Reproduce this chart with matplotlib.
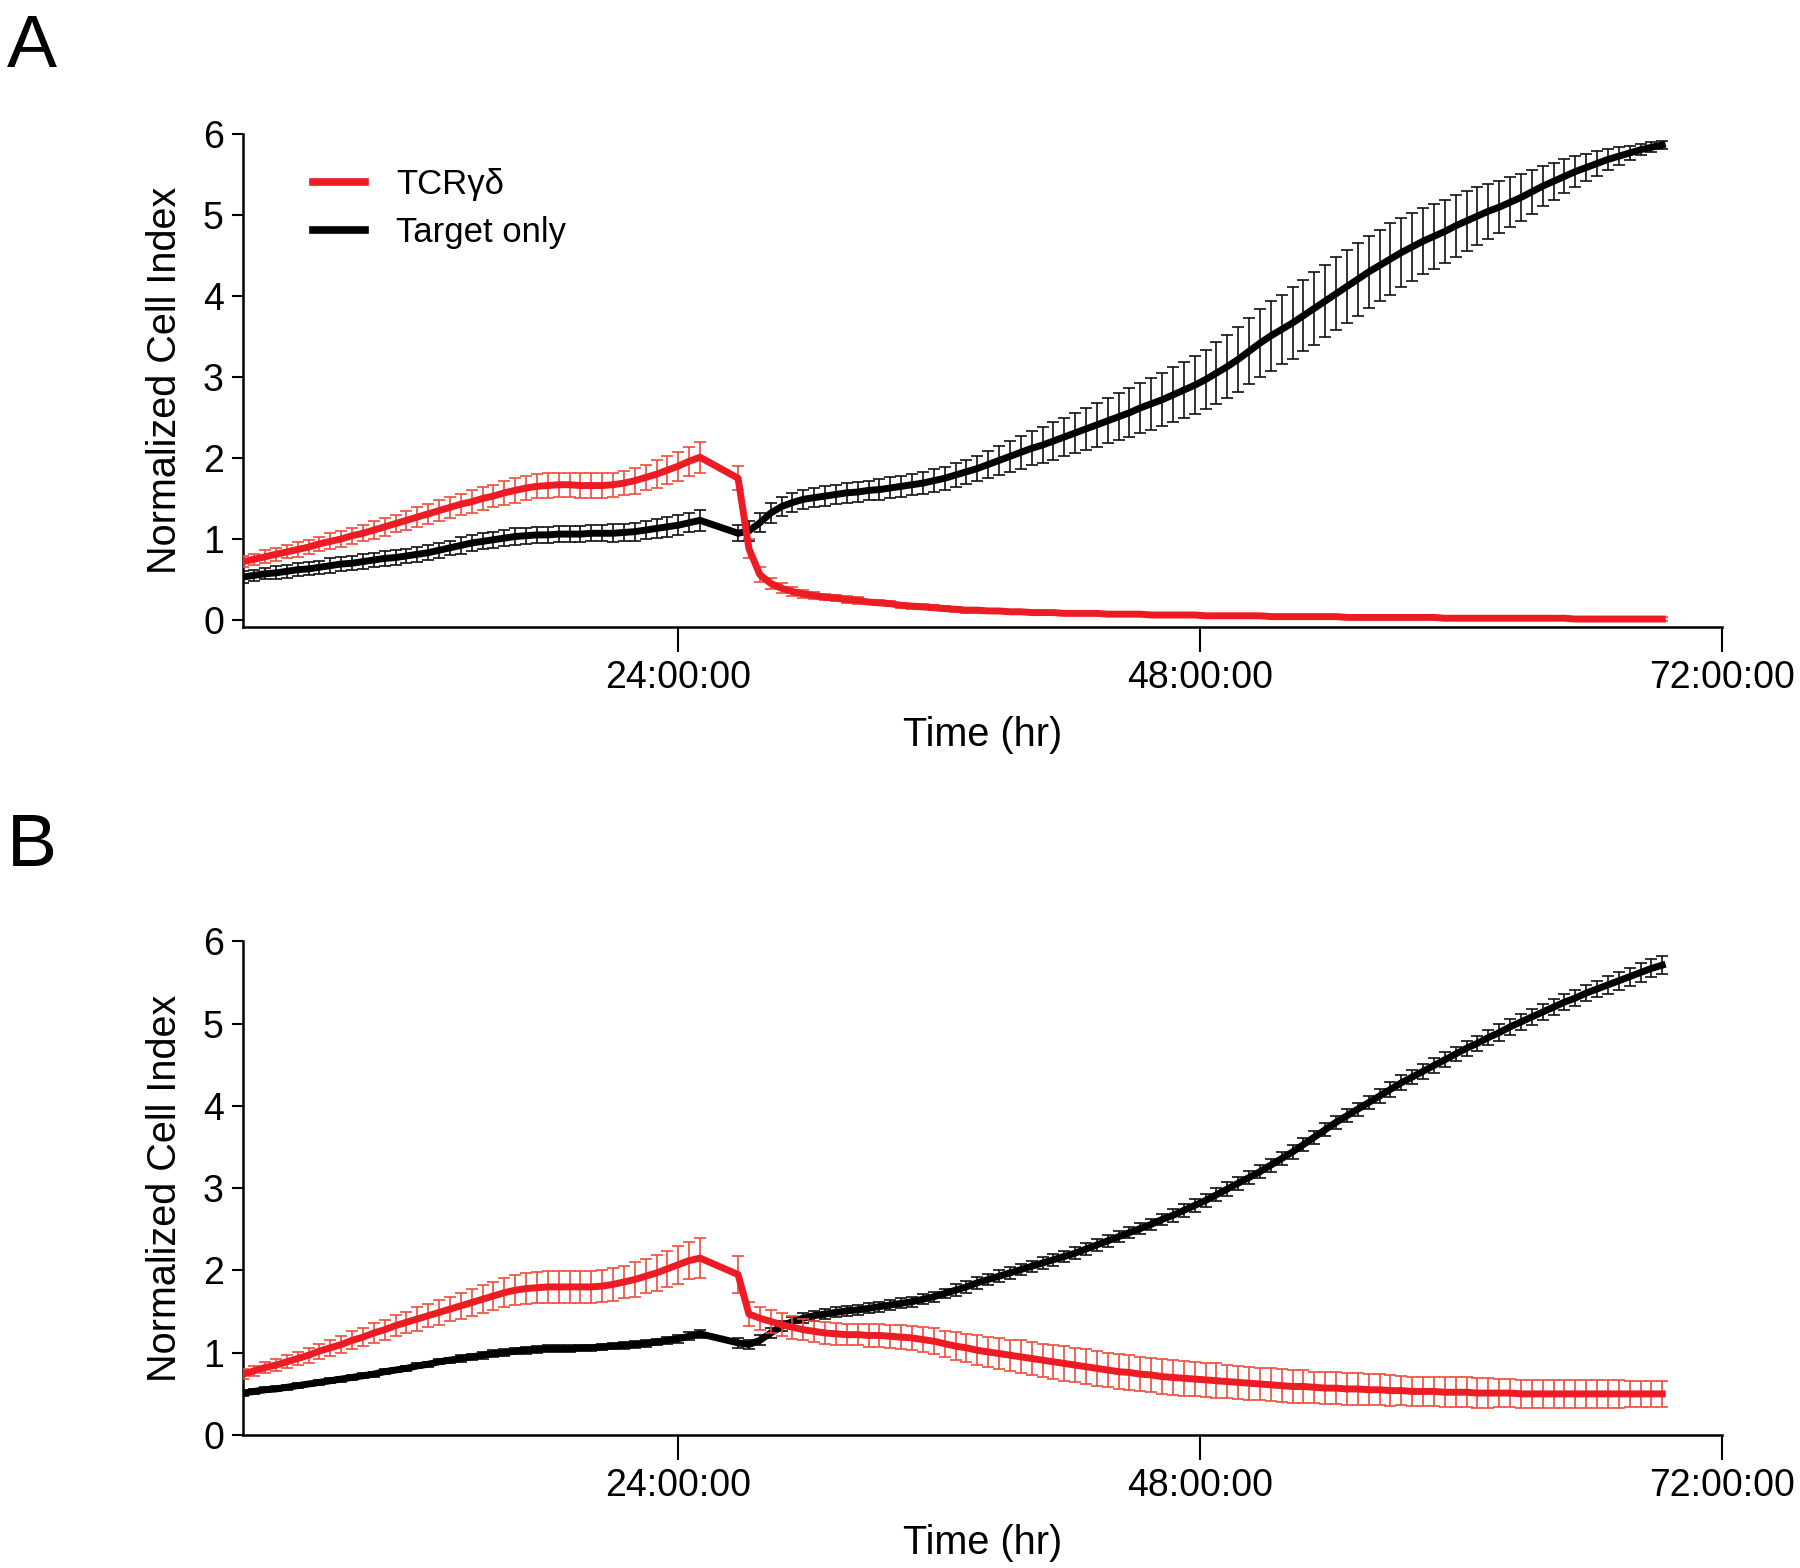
import numpy as np
import matplotlib
matplotlib.use('Agg')
import matplotlib.pyplot as plt
from matplotlib.lines import Line2D

plt.rcParams['font.family'] = ['Liberation Sans', 'DejaVu Sans']

# sampling times (h): before the effector addition gap, and after it
hours_pre = np.arange(4.0, 25.01, 0.5)
hours_post = np.arange(26.75, 69.26, 0.5)
hours = np.concatenate([hours_pre, hours_post])

# ---- panel A ----
red_a = [
    0.72, 0.75, 0.78, 0.81, 0.84, 0.87, 0.90, 0.94, 0.97, 1.00,
    1.04, 1.07, 1.11, 1.15, 1.19, 1.23, 1.27, 1.31, 1.35, 1.39,
    1.43, 1.46, 1.50, 1.53, 1.57, 1.60, 1.63, 1.65, 1.66, 1.67,
    1.67, 1.66, 1.66, 1.66, 1.67, 1.69, 1.72, 1.76, 1.80, 1.85,
    1.90, 1.96, 2.01,
    1.75, 0.88, 0.56, 0.45, 0.39, 0.35, 0.32, 0.30, 0.28, 0.27,
    0.25, 0.24, 0.22, 0.21, 0.20, 0.18, 0.17, 0.16, 0.15, 0.14,
    0.13, 0.12, 0.12, 0.11, 0.11, 0.10, 0.10, 0.09, 0.09, 0.09,
    0.08, 0.08, 0.08, 0.08, 0.07, 0.07, 0.07, 0.07, 0.06, 0.06,
    0.06, 0.06, 0.06, 0.05, 0.05, 0.05, 0.05, 0.05, 0.05, 0.04,
    0.04, 0.04, 0.04, 0.04, 0.04, 0.04, 0.03, 0.03, 0.03, 0.03,
    0.03, 0.03, 0.03, 0.03, 0.03, 0.02, 0.02, 0.02, 0.02, 0.02,
    0.02, 0.02, 0.02, 0.02, 0.02, 0.02, 0.02, 0.01, 0.01, 0.01,
    0.01, 0.01, 0.01, 0.01, 0.01, 0.01,
]
red_a_err = [
    0.07, 0.07, 0.08, 0.08, 0.08, 0.09, 0.09, 0.09, 0.10, 0.10,
    0.10, 0.10, 0.11, 0.11, 0.11, 0.12, 0.12, 0.12, 0.13, 0.13,
    0.13, 0.14, 0.14, 0.14, 0.15, 0.15, 0.15, 0.15, 0.15, 0.15,
    0.15, 0.15, 0.15, 0.15, 0.15, 0.15, 0.16, 0.16, 0.17, 0.17,
    0.18, 0.18, 0.19,
    0.15, 0.12, 0.09, 0.07, 0.06, 0.05, 0.05, 0.04, 0.04, 0.04,
    0.04, 0.04, 0.03, 0.03, 0.03, 0.03, 0.03, 0.03, 0.03, 0.03,
    0.03, 0.03, 0.03, 0.03, 0.02, 0.02, 0.02, 0.02, 0.02, 0.02,
    0.02, 0.02, 0.02, 0.02, 0.02, 0.02, 0.02, 0.02, 0.02, 0.02,
    0.02, 0.02, 0.02, 0.02, 0.02, 0.02, 0.02, 0.02, 0.02, 0.02,
    0.02, 0.02, 0.02, 0.02, 0.02, 0.02, 0.02, 0.02, 0.02, 0.02,
    0.02, 0.02, 0.02, 0.02, 0.02, 0.02, 0.02, 0.02, 0.02, 0.02,
    0.02, 0.02, 0.02, 0.02, 0.02, 0.02, 0.02, 0.02, 0.02, 0.02,
    0.02, 0.02, 0.02, 0.02, 0.02, 0.02,
]
black_a = [
    0.53, 0.55, 0.57, 0.58, 0.60, 0.62, 0.63, 0.65, 0.67, 0.69,
    0.70, 0.72, 0.74, 0.76, 0.77, 0.79, 0.81, 0.83, 0.86, 0.89,
    0.92, 0.95, 0.97, 0.99, 1.01, 1.03, 1.04, 1.05, 1.05, 1.06,
    1.06, 1.06, 1.07, 1.07, 1.07, 1.08, 1.09, 1.11, 1.13, 1.15,
    1.17, 1.20, 1.23,
    1.07, 1.10, 1.20, 1.32, 1.40, 1.45, 1.49, 1.51, 1.53, 1.55,
    1.57, 1.58, 1.60, 1.61, 1.63, 1.65, 1.67, 1.69, 1.72, 1.75,
    1.79, 1.83, 1.87, 1.92, 1.97, 2.02, 2.07, 2.12, 2.16, 2.21,
    2.26, 2.31, 2.36, 2.41, 2.46, 2.51, 2.56, 2.62, 2.67, 2.72,
    2.78, 2.84, 2.90, 2.97, 3.05, 3.13, 3.22, 3.32, 3.42, 3.51,
    3.59, 3.67, 3.76, 3.85, 3.94, 4.03, 4.12, 4.21, 4.30, 4.38,
    4.46, 4.54, 4.61, 4.68, 4.74, 4.80, 4.87, 4.93, 4.99, 5.05,
    5.10, 5.16, 5.22, 5.29, 5.36, 5.42, 5.48, 5.54, 5.59, 5.64,
    5.69, 5.73, 5.77, 5.81, 5.84, 5.87,
]
black_a_err = [
    0.07, 0.07, 0.07, 0.08, 0.08, 0.08, 0.08, 0.08, 0.09, 0.09,
    0.09, 0.09, 0.09, 0.09, 0.09, 0.09, 0.09, 0.09, 0.09, 0.09,
    0.10, 0.10, 0.10, 0.10, 0.10, 0.10, 0.10, 0.10, 0.10, 0.10,
    0.10, 0.10, 0.10, 0.10, 0.11, 0.11, 0.11, 0.11, 0.12, 0.12,
    0.12, 0.12, 0.13,
    0.10, 0.12, 0.12, 0.12, 0.12, 0.12, 0.12, 0.12, 0.12, 0.12,
    0.12, 0.12, 0.12, 0.13, 0.13, 0.13, 0.13, 0.14, 0.14, 0.14,
    0.15, 0.15, 0.16, 0.17, 0.18, 0.19, 0.20, 0.21, 0.22, 0.23,
    0.24, 0.25, 0.26, 0.27, 0.28, 0.29, 0.30, 0.31, 0.32, 0.33,
    0.34, 0.35, 0.36, 0.37, 0.38, 0.39, 0.40, 0.41, 0.42, 0.43,
    0.43, 0.44, 0.44, 0.45, 0.45, 0.45, 0.45, 0.45, 0.45, 0.44,
    0.44, 0.43, 0.42, 0.41, 0.40, 0.39, 0.38, 0.37, 0.36, 0.34,
    0.32, 0.31, 0.29, 0.27, 0.25, 0.23, 0.21, 0.19, 0.17, 0.15,
    0.13, 0.11, 0.09, 0.07, 0.06, 0.05,
]

# ---- panel B ----
red_b = [
    0.74, 0.78, 0.82, 0.85, 0.89, 0.93, 0.97, 1.02, 1.06, 1.10,
    1.15, 1.19, 1.24, 1.28, 1.33, 1.37, 1.41, 1.45, 1.49, 1.53,
    1.57, 1.61, 1.65, 1.69, 1.73, 1.76, 1.78, 1.79, 1.80, 1.80,
    1.80, 1.80, 1.80, 1.81, 1.83, 1.86, 1.89, 1.93, 1.97, 2.02,
    2.07, 2.12, 2.15,
    1.95, 1.47, 1.42, 1.38, 1.34, 1.31, 1.28, 1.26, 1.24, 1.23,
    1.22, 1.22, 1.21, 1.21, 1.20, 1.19, 1.18, 1.16, 1.14, 1.11,
    1.08, 1.06, 1.03, 1.01, 0.99, 0.97, 0.95, 0.93, 0.91, 0.89,
    0.87, 0.85, 0.83, 0.81, 0.79, 0.77, 0.76, 0.74, 0.73, 0.71,
    0.70, 0.69, 0.68, 0.67, 0.66, 0.65, 0.64, 0.63, 0.62, 0.61,
    0.60, 0.59, 0.59, 0.58, 0.57, 0.57, 0.56, 0.56, 0.55, 0.55,
    0.54, 0.54, 0.53, 0.53, 0.53, 0.52, 0.52, 0.52, 0.51, 0.51,
    0.51, 0.51, 0.50, 0.50, 0.50, 0.50, 0.50, 0.50, 0.50, 0.50,
    0.50, 0.50, 0.50, 0.50, 0.50, 0.50,
]
red_b_err = [
    0.06, 0.06, 0.07, 0.07, 0.08, 0.08, 0.09, 0.09, 0.10, 0.10,
    0.11, 0.11, 0.12, 0.12, 0.13, 0.13, 0.14, 0.14, 0.15, 0.15,
    0.16, 0.16, 0.17, 0.17, 0.18, 0.18, 0.19, 0.19, 0.19, 0.19,
    0.19, 0.19, 0.19, 0.19, 0.20, 0.20, 0.21, 0.21, 0.22, 0.22,
    0.23, 0.23, 0.24,
    0.23, 0.15, 0.14, 0.14, 0.14, 0.14, 0.13, 0.13, 0.13, 0.13,
    0.13, 0.13, 0.14, 0.14, 0.14, 0.15, 0.15, 0.15, 0.16, 0.16,
    0.17, 0.17, 0.18, 0.18, 0.19, 0.19, 0.20, 0.20, 0.20, 0.21,
    0.21, 0.21, 0.21, 0.21, 0.21, 0.21, 0.21, 0.21, 0.21, 0.21,
    0.21, 0.21, 0.21, 0.21, 0.21, 0.20, 0.20, 0.20, 0.20, 0.20,
    0.20, 0.20, 0.20, 0.19, 0.19, 0.19, 0.19, 0.19, 0.19, 0.19,
    0.19, 0.18, 0.18, 0.18, 0.18, 0.18, 0.18, 0.18, 0.18, 0.18,
    0.17, 0.17, 0.17, 0.17, 0.17, 0.17, 0.17, 0.17, 0.17, 0.17,
    0.17, 0.17, 0.16, 0.16, 0.16, 0.16,
]
black_b = [
    0.51, 0.53, 0.55, 0.56, 0.58, 0.60, 0.62, 0.64, 0.66, 0.68,
    0.70, 0.72, 0.74, 0.77, 0.79, 0.81, 0.84, 0.86, 0.89, 0.91,
    0.93, 0.95, 0.97, 0.99, 1.00, 1.02, 1.03, 1.04, 1.05, 1.05,
    1.05, 1.06, 1.06, 1.07, 1.08, 1.09, 1.10, 1.11, 1.13, 1.15,
    1.17, 1.20, 1.23,
    1.12, 1.10, 1.15, 1.24, 1.32, 1.38, 1.42, 1.45, 1.47, 1.49,
    1.51, 1.52, 1.54, 1.56, 1.58, 1.60, 1.62, 1.65, 1.68, 1.72,
    1.76, 1.80, 1.85, 1.89, 1.93, 1.97, 2.01, 2.05, 2.09, 2.13,
    2.17, 2.21, 2.26, 2.31, 2.36, 2.41, 2.46, 2.51, 2.56, 2.62,
    2.67, 2.73, 2.79, 2.85, 2.92, 2.99, 3.06, 3.13, 3.20, 3.28,
    3.36, 3.44, 3.53, 3.62, 3.71, 3.80, 3.88, 3.96, 4.04, 4.12,
    4.20, 4.28, 4.35, 4.42, 4.49, 4.56, 4.63, 4.70, 4.76, 4.83,
    4.89, 4.96, 5.02, 5.08, 5.14, 5.20, 5.26, 5.31, 5.37, 5.42,
    5.47, 5.52, 5.57, 5.62, 5.67, 5.71,
]
black_b_err = [
    0.03, 0.03, 0.03, 0.03, 0.03, 0.03, 0.03, 0.03, 0.03, 0.03,
    0.03, 0.03, 0.03, 0.03, 0.03, 0.03, 0.03, 0.03, 0.03, 0.03,
    0.04, 0.04, 0.04, 0.04, 0.04, 0.04, 0.04, 0.04, 0.04, 0.04,
    0.04, 0.04, 0.04, 0.04, 0.04, 0.04, 0.04, 0.04, 0.04, 0.04,
    0.05, 0.05, 0.05,
    0.06, 0.06, 0.06, 0.06, 0.06, 0.06, 0.06, 0.06, 0.06, 0.06,
    0.06, 0.06, 0.06, 0.06, 0.06, 0.06, 0.06, 0.06, 0.06, 0.06,
    0.07, 0.07, 0.07, 0.07, 0.07, 0.07, 0.07, 0.07, 0.07, 0.07,
    0.07, 0.07, 0.07, 0.07, 0.07, 0.07, 0.07, 0.07, 0.07, 0.07,
    0.08, 0.08, 0.08, 0.08, 0.08, 0.08, 0.08, 0.08, 0.08, 0.08,
    0.08, 0.08, 0.08, 0.08, 0.08, 0.08, 0.08, 0.08, 0.08, 0.08,
    0.09, 0.09, 0.09, 0.09, 0.09, 0.09, 0.09, 0.09, 0.09, 0.09,
    0.10, 0.10, 0.10, 0.10, 0.10, 0.10, 0.10, 0.10, 0.10, 0.10,
    0.11, 0.11, 0.11, 0.11, 0.11, 0.11,
]

x_ticks = [24, 48, 72]
x_ticklabels = ['24:00:00', '48:00:00', '72:00:00']
y_ticks = [0, 1, 2, 3, 4, 5, 6]

RED = '#ED1C24'
RED_ERR = '#F04A3A'


def draw_panel(ax, red, red_err, black, black_err, ymin):
    ax.errorbar(hours, black, yerr=black_err, fmt='none', ecolor='#111111',
                elinewidth=1.2, capsize=4.5, capthick=1.2, zorder=2)
    ax.plot(hours, black, color='black', lw=5, zorder=3)
    ax.errorbar(hours, red, yerr=red_err, fmt='none', ecolor=RED_ERR,
                elinewidth=1.2, capsize=4.5, capthick=1.2, zorder=4)
    ax.plot(hours, red, color=RED, lw=5, zorder=5)

    ax.set_xlim(4, 72)
    ax.set_ylim(ymin, 6)
    ax.spines['top'].set_visible(False)
    ax.spines['right'].set_visible(False)
    ax.spines['left'].set_linewidth(1.8)
    ax.spines['bottom'].set_linewidth(1.8)
    ax.spines['left'].set_bounds(ymin, 6)

    ax.set_xticks(x_ticks)
    ax.set_xticklabels(x_ticklabels)
    ax.set_yticks(y_ticks)
    ax.tick_params(axis='x', length=18, width=1.5, pad=6, labelsize=27)
    ax.tick_params(axis='y', length=8, width=1.5, pad=6, labelsize=27)
    ax.set_xlabel('Time (hr)', fontsize=28.5, labelpad=14)
    ax.set_ylabel('Normalized Cell Index', fontsize=28.5, labelpad=14)


fig = plt.figure(figsize=(18, 15.68), dpi=100)
ax_a = fig.add_axes([0.1352, 0.6003, 0.8215, 0.3140])
ax_b = fig.add_axes([0.1352, 0.0848, 0.8215, 0.3149])

draw_panel(ax_a, red_a, red_a_err, black_a, black_a_err, -0.085)
draw_panel(ax_b, red_b, red_b_err, black_b, black_b_err, 0)

handles = [Line2D([], [], color=RED, lw=5.5),
           Line2D([], [], color='black', lw=5.5)]
ax_a.legend(handles, ['TCR\u03b3\u03b4', 'Target only'], loc='upper left',
            bbox_to_anchor=(0.047, 0.932), frameon=False, fontsize=25,
            handlelength=1.5, handletextpad=0.9, labelspacing=0.45,
            borderpad=0, borderaxespad=0)

fig.text(0.004, 0.992, 'A', fontsize=54, va='top', ha='left')
fig.text(0.004, 0.482, 'B', fontsize=54, va='top', ha='left')

fig.savefig('out.png', dpi=100)
